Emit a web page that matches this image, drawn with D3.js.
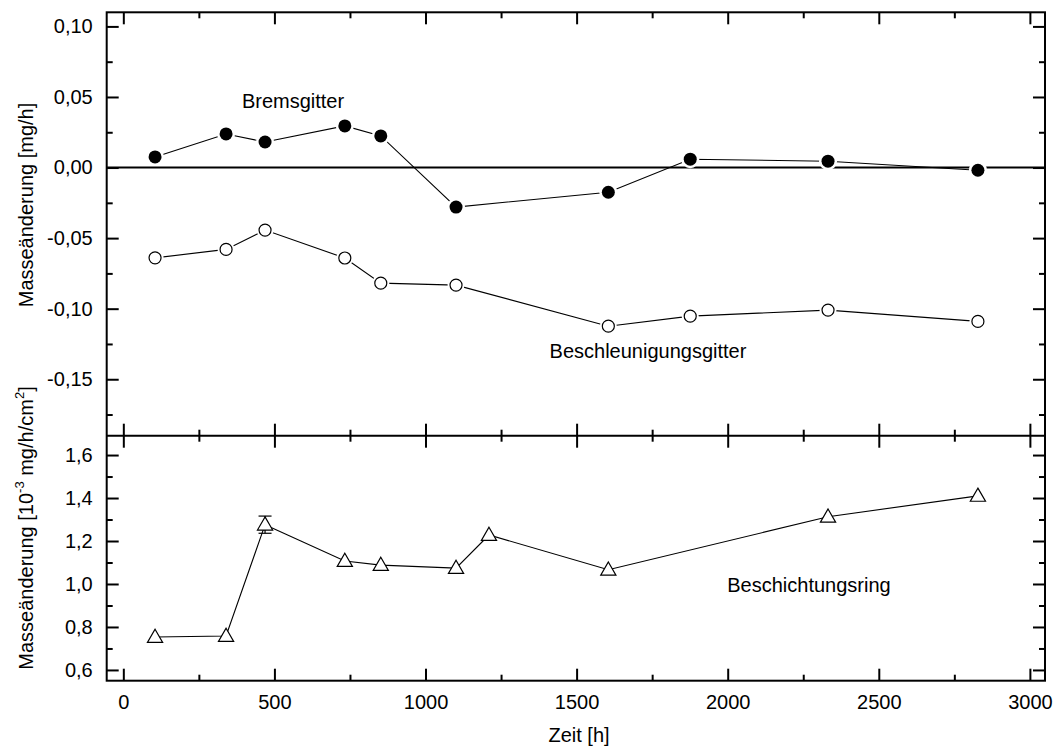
<!DOCTYPE html>
<html>
<head>
<meta charset="utf-8">
<script src="https://cdn.jsdelivr.net/npm/d3@7"></script>
<style>
  html, body { margin: 0; padding: 0; background: #fff; }
  svg { display: block; }
  text { font-family: "Liberation Sans", Arial, Helvetica, sans-serif; fill: #000; }
</style>
</head>
<body>
<svg id="chart" width="1055" height="749"></svg>
<script>
// Betriebszeit der Gitterproben [h]
const hours = [105, 340, 469, 733, 852, 1101, 1605, 1876, 2332, 2828];
// Masseänderung Bremsgitter [mg/h]
const bremsgitter = [0.0075, 0.0238, 0.0181, 0.0295, 0.0224, -0.0280, -0.0175, 0.0059, 0.0045, -0.0019];
// Masseänderung Beschleunigungsgitter [mg/h]
const beschleunigungsgitter = [-0.0640, -0.0580, -0.0443, -0.0641, -0.0819, -0.0833, -0.1124, -0.1053, -0.1010, -0.1090];
// Beschichtungsring: eigene Messzeitpunkte [h]
const ringHours = [105, 340, 469, 733, 852, 1101, 1210, 1605, 2332, 2828];
// Masseänderung Beschichtungsring [10^-3 mg/h/cm^2]
const beschichtungsring = [0.753, 0.758, 1.276, 1.107, 1.088, 1.074, 1.228, 1.066, 1.313, 1.410];
const ringError = [0, 0, 0.040, 0, 0, 0, 0, 0, 0, 0];

const xTicks = [0, 500, 1000, 1500, 2000, 2500, 3000];
const xMinor = [250, 750, 1250, 1750, 2250, 2750];
const topTicks = [0.10, 0.05, 0.00, -0.05, -0.10, -0.15];
const topMinor = [0.075, 0.025, -0.025, -0.075, -0.125, -0.175];
const botTicks = [0.6, 0.8, 1.0, 1.2, 1.4, 1.6];
const botMinor = [0.7, 0.9, 1.1, 1.3, 1.5];

const fmt = (d, p) => d.toFixed(p).replace(".", ",");

const L = 106.7, R = 1045, T = 12.3, M = 435.7, B = 680.7;
const MAJ = 12, MIN = 6;

const svg = d3.select("#chart");

const x = d3.scaleLinear().domain([-55, 3050]).range([L, R]);
const yTop = d3.scaleLinear().domain([-0.19, 0.11]).range([M, T]);
const yBot = d3.scaleLinear().domain([0.55, 1.69]).range([B, M]);

// Achsen mit nach innen zeigenden Ticks
function axisGroup(axisFn, scale, vals, len, labels, fmtFn, transform) {
  const g = svg.append("g").attr("transform", transform);
  const a = axisFn(scale).tickValues(vals).tickSizeInner(len).tickSizeOuter(0).tickPadding(8);
  if (labels) a.tickFormat(fmtFn); else a.tickFormat("");
  g.call(a);
  g.select(".domain").remove();
  g.selectAll(".tick line").attr("stroke", "#000").attr("stroke-width", 2);
  g.selectAll(".tick text").attr("font-size", 20);
  return g;
}

// oberes Diagramm: y-Achsen links und rechts
axisGroup(d3.axisRight, yTop, topTicks, MAJ, false, null, `translate(${L},0)`);
axisGroup(d3.axisRight, yTop, topMinor, MIN, false, null, `translate(${L},0)`);
axisGroup(d3.axisLeft, yTop, topTicks, MAJ, false, null, `translate(${R},0)`);
axisGroup(d3.axisLeft, yTop, topMinor, MIN, false, null, `translate(${R},0)`);
// Beschriftung oben links
const topLab = svg.append("g").attr("transform", `translate(${L},0)`)
  .call(d3.axisLeft(yTop).tickValues(topTicks).tickSize(0).tickPadding(14).tickFormat(d => fmt(d, 2)));
topLab.select(".domain").remove();
topLab.selectAll("text").attr("font-size", 20);

// unteres Diagramm: y-Achsen
axisGroup(d3.axisRight, yBot, botTicks, MAJ, false, null, `translate(${L},0)`);
axisGroup(d3.axisRight, yBot, botMinor, MIN, false, null, `translate(${L},0)`);
axisGroup(d3.axisLeft, yBot, botTicks, MAJ, false, null, `translate(${R},0)`);
axisGroup(d3.axisLeft, yBot, botMinor, MIN, false, null, `translate(${R},0)`);
const botLab = svg.append("g").attr("transform", `translate(${L},0)`)
  .call(d3.axisLeft(yBot).tickValues(botTicks).tickSize(0).tickPadding(14).tickFormat(d => fmt(d, 1)));
botLab.select(".domain").remove();
botLab.selectAll("text").attr("font-size", 20);

// x-Ticks: oben, Trennlinie (beidseitig), unten
axisGroup(d3.axisBottom, x, xTicks, MAJ, false, null, `translate(0,${T})`);
axisGroup(d3.axisBottom, x, xMinor, MIN, false, null, `translate(0,${T})`);
axisGroup(d3.axisTop, x, xTicks, MAJ, false, null, `translate(0,${M})`);
axisGroup(d3.axisTop, x, xMinor, MIN, false, null, `translate(0,${M})`);
axisGroup(d3.axisBottom, x, xTicks, MAJ, false, null, `translate(0,${M})`);
axisGroup(d3.axisBottom, x, xMinor, MIN, false, null, `translate(0,${M})`);
axisGroup(d3.axisTop, x, xTicks, MAJ, false, null, `translate(0,${B})`);
axisGroup(d3.axisTop, x, xMinor, MIN, false, null, `translate(0,${B})`);
const xLab = svg.append("g").attr("transform", `translate(0,${B})`)
  .call(d3.axisBottom(x).tickValues(xTicks).tickSize(0).tickPadding(14).tickFormat(d => String(d)));
xLab.select(".domain").remove();
xLab.selectAll("text").attr("font-size", 20);

// Rahmen
svg.append("rect").attr("x", L).attr("y", T).attr("width", R - L).attr("height", B - T)
  .attr("fill", "none").attr("stroke", "#000").attr("stroke-width", 2);
svg.append("line").attr("x1", L).attr("x2", R).attr("y1", M).attr("y2", M)
  .attr("stroke", "#000").attr("stroke-width", 2);
// Nulllinie
svg.append("line").attr("x1", L).attr("x2", R).attr("y1", yTop(0)).attr("y2", yTop(0))
  .attr("stroke", "#000").attr("stroke-width", 2);

// Verbindungslinien
function series(xs, ys, yScale) {
  const pts = xs.map((h, i) => [x(h), yScale(ys[i])]);
  svg.append("path").attr("d", d3.line()(pts))
    .attr("fill", "none").attr("stroke", "#000").attr("stroke-width", 1.1);
  return pts;
}
const pB = series(hours, bremsgitter, yTop);
const pA = series(hours, beschleunigungsgitter, yTop);
const pR = series(ringHours, beschichtungsring, yBot);

// Fehlerbalken Beschichtungsring
ringHours.forEach((h, i) => {
  if (!ringError[i]) return;
  const cx = x(h), y1 = yBot(beschichtungsring[i] + ringError[i]), y2 = yBot(beschichtungsring[i] - ringError[i]);
  const g = svg.append("g").attr("stroke", "#000").attr("stroke-width", 1.2);
  g.append("line").attr("x1", cx).attr("x2", cx).attr("y1", y1).attr("y2", y2);
  g.append("line").attr("x1", cx - 6.5).attr("x2", cx + 6.5).attr("y1", y1).attr("y2", y1);
  g.append("line").attr("x1", cx - 6.5).attr("x2", cx + 6.5).attr("y1", y2).attr("y2", y2);
});

// Symbole mit weißem Freiraum
svg.selectAll(".haloB").data(pB).join("circle")
  .attr("cx", d => d[0]).attr("cy", d => d[1]).attr("r", 9).attr("fill", "#fff");
svg.selectAll(".dotB").data(pB).join("circle")
  .attr("cx", d => d[0]).attr("cy", d => d[1]).attr("r", 6.5).attr("fill", "#000");

svg.selectAll(".haloA").data(pA).join("circle")
  .attr("cx", d => d[0]).attr("cy", d => d[1]).attr("r", 8.5).attr("fill", "#fff");
svg.selectAll(".dotA").data(pA).join("circle")
  .attr("cx", d => d[0]).attr("cy", d => d[1]).attr("r", 6).attr("fill", "#fff")
  .attr("stroke", "#000").attr("stroke-width", 1.2);

const tri = d3.symbol().type(d3.symbolTriangle).size(100);
svg.selectAll(".triR").data(pR).join("path")
  .attr("transform", d => `translate(${d[0]},${d[1] + 1})`)
  .attr("d", tri).attr("fill", "#fff").attr("stroke", "#000").attr("stroke-width", 1.2);

// Beschriftungen
svg.append("text").attr("x", 293).attr("y", 108).attr("text-anchor", "middle").attr("font-size", 20).text("Bremsgitter");
svg.append("text").attr("x", 648).attr("y", 358).attr("text-anchor", "middle").attr("font-size", 20).text("Beschleunigungsgitter");
svg.append("text").attr("x", 809).attr("y", 592).attr("text-anchor", "middle").attr("font-size", 20).text("Beschichtungsring");

svg.append("text").attr("x", 579).attr("y", 742).attr("text-anchor", "middle").attr("font-size", 20).text("Zeit [h]");

svg.append("text").attr("transform", "translate(33,205) rotate(-90)").attr("text-anchor", "middle")
  .attr("font-size", 20).text("Masseänderung [mg/h]");

const t2 = svg.append("text").attr("transform", "translate(33,528) rotate(-90)").attr("text-anchor", "middle")
  .attr("font-size", 20);
t2.append("tspan").text("Masseänderung [10");
t2.append("tspan").attr("font-size", 13).attr("dy", -9).text("-3");
t2.append("tspan").attr("dy", 9).text(" mg/h/cm");
t2.append("tspan").attr("font-size", 13).attr("dy", -9).text("2");
t2.append("tspan").attr("dy", 9).text("]");
</script>
</body>
</html>
